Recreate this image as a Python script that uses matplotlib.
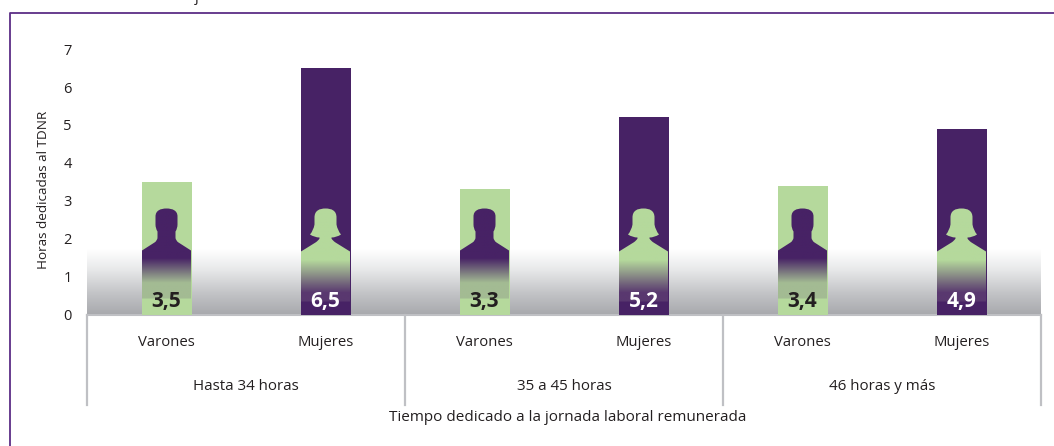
import numpy as np
import matplotlib
matplotlib.use('Agg')
import matplotlib.pyplot as plt
from matplotlib.path import Path
from matplotlib.patches import PathPatch
from matplotlib.colors import to_rgb

plt.rcParams['font.family'] = ['Open Sans', 'DejaVu Sans']

groups = ['Hasta 34 horas', '35 a 45 horas', '46 horas y más']
categories = ['Varones', 'Mujeres']
varones = [3.5, 3.3, 3.4]
mujeres = [6.5, 5.2, 4.9]
y_ticks = [0, 1, 2, 3, 4, 5, 6, 7]

green = '#b5d99c'
purple = '#472265'
grey_line = '#bfc0c4'
text_col = '#231f20'

W, H = 1054, 446
PX_X = 159
PX_Y = 37.9
BASE = 314.5

fig = plt.figure(figsize=(W / 100, H / 100), dpi=100)
ax = fig.add_axes([87 / W, (H - BASE) / H, 954 / W, 7 * PX_Y / H])

L, C3, C4 = Path.LINETO, Path.CURVE3, Path.CURVE4


def icon(cx, bottom, half):
    # half is the left outline going up, the right side mirrors it
    pts = [(-24.5, bottom)] + [p for p, _ in half]
    codes = [Path.MOVETO] + [c for _, c in half]
    right = [(-a, b) for a, b in pts[::-1][1:]]
    r_codes = codes[1:][::-1]
    verts = pts + right + [pts[0]]
    all_codes = codes + r_codes + [Path.CLOSEPOLY]
    return Path([(cx + a / PX_X, b / PX_Y) for a, b in verts], all_codes)


def man_path(cx):
    half = [((-24.5, 64), L), ((-12, 72), L), ((-9, 74), C3), ((-9, 77), C3), ((-9, 83), L),
            ((-11, 86), C3), ((-11, 90), C3), ((-11, 98), L),
            ((-11, 104), C4), ((-6, 106), C4), ((0, 106), C4)]
    return icon(cx, 16, half)


def woman_path(cx):
    half = [((-24.5, 63), L), ((-10, 72), L), ((-7, 74), C3), ((-6, 76), C3), ((-6, 77), L),
            ((-11, 77), C3), ((-15.5, 80), C3), ((-12, 84), C3), ((-11, 90), C3), ((-11, 97), L),
            ((-11, 104), C4), ((-6, 106), C4), ((0, 106), C4)]
    return icon(cx, 13, half)


def fade(stops):
    # vertical colour ramp, stops are (px above baseline, colour)
    ups = np.arange(0, 111)
    pos = [s[0] for s in stops]
    cols = np.array([to_rgb(s[1]) for s in stops])
    return np.stack([np.interp(ups, pos, cols[:, i]) for i in range(3)], axis=1)[:, None, :]


# grey band behind the bars
band = fade([(0, '#a9aaae'), (20, '#c2c3c6'), (45, '#e8e9ea'), (65, '#ffffff'), (110, '#ffffff')])
ax.imshow(band[:66], origin='lower', extent=(0, 6, 0, 65 / PX_Y), aspect='auto', zorder=1)

man_ramp = fade([(0, '#a3bb93'), (31, '#a3bb93'), (56, purple), (110, purple)])
woman_ramp = fade([(0, '#59386f'), (21, '#59386f'), (54, green), (110, green)])

for g in range(len(groups)):
    for k, (vals, bar_col, ramp, mk, txt_col) in enumerate([
            (varones, green, man_ramp, man_path, text_col),
            (mujeres, purple, woman_ramp, woman_path, 'white')]):
        x = 2 * g + k + 0.5
        ax.bar(x, vals[g], width=50 / PX_X, color=bar_col, zorder=3)
        im = ax.imshow(ramp, origin='lower', extent=(x - 0.16, x + 0.16, 0, 110 / PX_Y), aspect='auto', zorder=4)
        patch = PathPatch(mk(x), facecolor='none', edgecolor='none', transform=ax.transData)
        ax.add_patch(patch)
        im.set_clip_path(patch)
        ax.text(x, 13.5 / PX_Y, f'{vals[g]}'.replace('.', ','), ha='center', va='center', color=txt_col,
                fontsize=15, fontweight='bold', zorder=5)
        ax.text(x, -27.5 / PX_Y, categories[k], ha='center', va='center', color=text_col, fontsize=10.7)
    ax.text(2 * g + 1, -72 / PX_Y, groups[g], ha='center', va='center', color=text_col, fontsize=10.9)

ax.set_xlim(0, 6)
ax.set_ylim(0, 7)
ax.set_xticks([])
ax.set_yticks(y_ticks)
ax.set_yticklabels([str(t) for t in y_ticks], fontsize=10.5, color=text_col)
ax.tick_params(axis='y', length=0, pad=11)
for s in ax.spines.values():
    s.set_visible(False)

# separators under the axis and baseline
ax.plot([0, 6], [0, 0], color=grey_line, lw=1.5, clip_on=False, zorder=2)
for sep in [0, 2, 4, 6]:
    ax.plot([sep, sep], [0, -90 / PX_Y], color=grey_line, lw=1.6, clip_on=False, zorder=2)

fig.text(43.5 / W, 1 - 190 / H, 'Horas dedicadas al TDNR', rotation=90, ha='center', va='center',
         color=text_col, fontsize=9.7)
fig.text(568 / W, 1 - 417.5 / H, 'Tiempo dedicado a la jornada laboral remunerada', ha='center', va='center',
         color=text_col, fontsize=11)

# purple frame, only top and left are visible
fig.add_artist(plt.Line2D([10 / W, 10 / W, 1], [0, 1 - 13 / H, 1 - 13 / H], color='#5c2d86', lw=1.3))
# tail of the cropped title
fig.text(197 / W, 1 - 1 / H, 'j', ha='center', va='baseline', color=text_col, fontsize=10.5)

fig.savefig('out.png', dpi=100)
